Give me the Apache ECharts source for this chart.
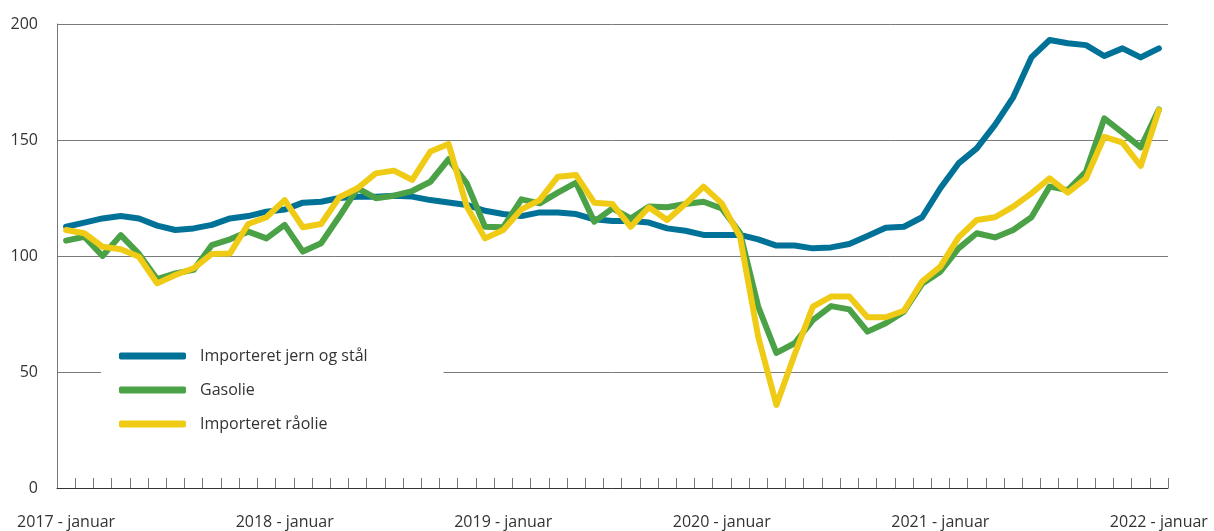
<!DOCTYPE html>
<html>
<head>
<meta charset="utf-8">
<script src="https://cdn.jsdelivr.net/npm/echarts@6/dist/echarts.min.js"></script>
<style>
  html, body { margin: 0; padding: 0; background: #fff; }
  #main { width: 1214px; height: 531px; }
</style>
</head>
<body>
<div id="main"></div>
<script>
// kategorier: januar 2017 til januar 2022, en pr. maaned
const years = [2017, 2018, 2019, 2020, 2021, 2022]
const monthNames = ['januar', 'februar', 'marts', 'april', 'maj', 'juni', 'juli', 'august', 'september', 'oktober', 'november', 'december']

const yTicks = [0, 50, 100, 150, 200]

const jernStaal = [112.6, 114.4, 116.2, 117.2, 116.2, 113.1, 111.2, 111.9, 113.4, 116.2,
  117.2, 119.1, 120, 123, 123.4, 125, 125.5, 125.5, 126, 125.6,
  124.1, 123.1, 122, 119.5, 118.1, 117.2, 118.8, 118.7, 118.1, 115.8,
  115.1, 115.1, 114.4, 111.9, 110.9, 109.1, 109.1, 109.1, 107.2, 104.5,
  104.5, 103.3, 103.7, 105.2, 108.6, 112.2, 112.6, 116.7, 129.2, 139.9,
  146.4, 156.5, 168.4, 185.6, 193.1, 191.7, 190.9, 186.2, 189.5, 185.6, 189.5]

const gasolie = [106.6, 108.3, 100, 109, 100.9, 90, 92.5, 94, 104.7, 107.2,
  110.5, 107.6, 113.4, 101.9, 105.5, 117, 129.2, 124.9, 126, 128,
  132, 141.7, 131.3, 112.6, 112.4, 124.4, 122.7, 127.3, 131.6, 114.8,
  120.5, 116.2, 121.3, 121, 122.4, 123.4, 120.5, 110, 78.2, 58.2,
  62.4, 72.4, 78.4, 77, 67.4, 71, 76, 88, 93.2, 103.3,
  109.8, 108, 111.2, 116.7, 129.9, 128.4, 136.4, 159.3, 153.2, 146.8, 163.2]

const raaolie = [111.2, 109.8, 104, 102.9, 99.7, 88.2, 91.8, 94.7, 100.9, 101.1,
  113.8, 116.7, 124.1, 112.4, 113.8, 125.3, 129.2, 135.6, 136.8, 132.8,
  145, 148.3, 121.3, 107.6, 111.2, 120.1, 124.1, 134.2, 134.9, 123,
  122.4, 112.6, 121, 115.5, 122.4, 129.9, 122.7, 108.3, 65.2, 35.8,
  57.5, 78.2, 82.5, 82.5, 73.6, 73.6, 76.4, 89, 95.4, 108,
  115.5, 116.7, 121.3, 127, 133.5, 127.3, 133.5, 151.4, 148.9, 138.8, 162.9]

const categories = []
years.forEach(y => {
  monthNames.forEach(m => {
    if (categories.length < jernStaal.length) categories.push(y + ' - ' + m)
  })
})

const font = '"Open Sans", "Noto Sans", sans-serif'

let chart = echarts.init(document.getElementById('main'))

const lineSeries = (name, data, color) => ({
  name: name,
  type: 'line',
  data: data,
  symbol: 'none',
  color: color,
  lineStyle: { width: 6, color: color, cap: 'round', join: 'round' }
})

let option = {
  animation: false,
  textStyle: { fontFamily: font },
  grid: { left: 57, right: 46, top: 24, bottom: 43 },
  legend: {
    orient: 'vertical',
    left: 101,
    top: 342,
    padding: [6, 76, 6, 18],
    backgroundColor: '#fff',
    itemWidth: 67,
    itemHeight: 7,
    itemGap: 18,
    icon: 'roundRect',
    textStyle: { fontSize: 16, color: '#333', fontFamily: font, padding: [0, 0, 0, 9] },
    data: ['Importeret jern og stål', 'Gasolie', 'Importeret råolie']
  },
  xAxis: {
    type: 'category',
    data: categories,
    boundaryGap: true,
    axisLine: { lineStyle: { color: '#333', width: 1 } },
    axisTick: { show: true, inside: true, length: 10, interval: 0, lineStyle: { color: '#777' } },
    axisLabel: { interval: 11, margin: 26, fontSize: 16, color: '#333', fontFamily: font },
    splitLine: { show: false }
  },
  yAxis: {
    type: 'value',
    min: yTicks[0],
    max: yTicks[yTicks.length - 1],
    interval: 50,
    axisLine: { show: true, lineStyle: { color: '#777' } },
    axisTick: { show: false },
    axisLabel: { margin: 19, fontSize: 16, color: '#333', fontFamily: font },
    splitLine: { show: true, lineStyle: { color: '#7a7a7a', width: 1 } }
  },
  series: [
    lineSeries('Importeret jern og stål', jernStaal, '#007298'),
    lineSeries('Gasolie', gasolie, '#4ba146'),
    lineSeries('Importeret råolie', raaolie, '#f0cb15')
  ]
}

chart.setOption(option)
</script>
</body>
</html>
